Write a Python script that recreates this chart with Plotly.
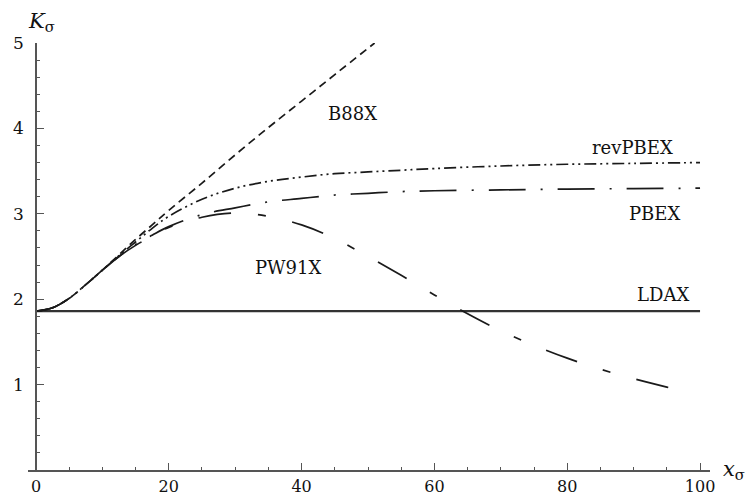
import plotly.graph_objects as go

# ---- data ----
ldax_x = [0, 100]
ldax_y = [1.86, 1.86]

b88_x = [0, 2.5, 5, 7.5, 10, 12.5, 15, 17.5, 20, 25, 30, 35, 40, 45, 51]
b88_y = [1.86, 1.90, 2.01, 2.17, 2.34, 2.52, 2.70, 2.87, 3.04, 3.36, 3.69, 4.01, 4.32, 4.63, 5.0]

revpbe_x = [0, 2.5, 5, 7.5, 10, 12.5, 15, 17.5, 20, 25, 30, 35, 40, 45, 50, 55, 60, 70, 80, 90, 100]
revpbe_y = [1.86, 1.90, 2.01, 2.17, 2.34, 2.51, 2.67, 2.83, 2.97, 3.17, 3.30, 3.38, 3.43, 3.47, 3.49, 3.51, 3.53, 3.56, 3.58, 3.59, 3.60]

pbe_x = [0, 2.5, 5, 7.5, 10, 12.5, 15, 17.5, 20, 25, 30, 35, 40, 45, 50, 55, 60, 70, 80, 90, 100]
pbe_y = [1.86, 1.90, 2.01, 2.17, 2.34, 2.50, 2.64, 2.75, 2.85, 2.99, 3.07, 3.14, 3.18, 3.22, 3.24, 3.26, 3.27, 3.28, 3.29, 3.295, 3.30]

pw91_x = [0, 2.5, 5, 7.5, 10, 12.5, 15, 17.5, 20, 25, 30, 35, 40, 45, 50, 55, 60, 65, 70, 75, 80, 85, 90, 95, 97.5]
pw91_y = [1.86, 1.90, 2.01, 2.17, 2.34, 2.50, 2.63, 2.74, 2.84, 2.96, 3.01, 2.97, 2.87, 2.71, 2.50, 2.28, 2.05, 1.83, 1.63, 1.46, 1.31, 1.18, 1.07, 0.97, 0.92]

x_ticks = [0, 20, 40, 60, 80, 100]
y_ticks = [1, 2, 3, 4, 5]

labels = ["B88X", "revPBEX", "PBEX", "PW91X", "LDAX"]
label_x = [47.6, 89.8, 93.2, 38.0, 94.4]
label_y = [4.17, 3.78, 3.00, 2.37, 2.05]

# ---- figure ----
XMIN, XMAX = -1.2, 101.5
ink = "#1a1a1a"
serif = "DejaVu Serif"

fig = go.Figure()
fig.add_trace(go.Scatter(x=ldax_x, y=ldax_y, mode="lines",
                         line=dict(color="#333333", width=2.2)))
fig.add_trace(go.Scatter(x=b88_x, y=b88_y, mode="lines", line_shape="spline",
                         line=dict(color=ink, width=1.7, dash="8px,5px")))
fig.add_trace(go.Scatter(x=revpbe_x, y=revpbe_y, mode="lines", line_shape="spline",
                         line=dict(color=ink, width=1.7, dash="12px,4px,2px,4px,2px,4px")))
fig.add_trace(go.Scatter(x=pbe_x, y=pbe_y, mode="lines", line_shape="spline",
                         line=dict(color=ink, width=1.7, dash="37px,15px,2px,15px")))
fig.add_trace(go.Scatter(x=pw91_x, y=pw91_y, mode="lines", line_shape="spline",
                         line=dict(color=ink, width=1.7, dash="33px,27px,8px,27px")))

for t, lx, ly in zip(labels, label_x, label_y):
    fig.add_annotation(x=lx, y=ly, text=t, showarrow=False,
                       font=dict(family=serif, size=18, color="#111111"))

# axis titles
fig.add_annotation(xref="paper", yref="paper", x=-0.003, y=1.0, yshift=21,
                   xanchor="left", yanchor="middle", showarrow=False,
                   text="<i>K</i><sub>σ</sub>",
                   font=dict(family=serif, size=21, color="#111111"))
fig.add_annotation(xref="paper", yref="paper", x=1.0, y=0.0, xshift=11,
                   xanchor="left", yanchor="middle", showarrow=False,
                   text="<i>x</i><sub>σ</sub>",
                   font=dict(family=serif, size=21, color="#111111"))

ypos = (0 - XMIN) / (XMAX - XMIN)

fig.update_layout(
    width=747, height=496,
    template="none",
    showlegend=False,
    paper_bgcolor="white", plot_bgcolor="white",
    margin=dict(l=28, r=37, t=43, b=26),
    xaxis=dict(range=[XMIN, XMAX], showgrid=False, zeroline=False,
               showline=True, linecolor="#555555", linewidth=1.6,
               tickmode="array", tickvals=x_ticks, ticks="inside",
               ticklen=7, tickwidth=1.4, tickcolor="#555555",
               ticklabelstandoff=1,
               tickfont=dict(family=serif, size=16, color="#111111"),
               minor=dict(dtick=5, tick0=0, ticks="inside", ticklen=3.5,
                          tickwidth=1.2, tickcolor="#555555"),
               automargin=False),
    yaxis=dict(range=[0, 5], showgrid=False, zeroline=False,
               anchor="free", position=ypos,
               showline=True, linecolor="#555555", linewidth=1.6,
               tickmode="array", tickvals=y_ticks, ticks="inside",
               ticklen=7, tickwidth=1.4, tickcolor="#555555",
               ticklabelstandoff=8,
               tickfont=dict(family=serif, size=17, color="#111111"),
               minor=dict(dtick=0.2, tick0=0, ticks="inside", ticklen=3.5,
                          tickwidth=1.2, tickcolor="#555555"),
               automargin=False),
)

fig.write_html("out.html",
               config={"displayModeBar": False},
               post_script="document.body.style.margin='0';document.body.style.overflow='hidden';")
